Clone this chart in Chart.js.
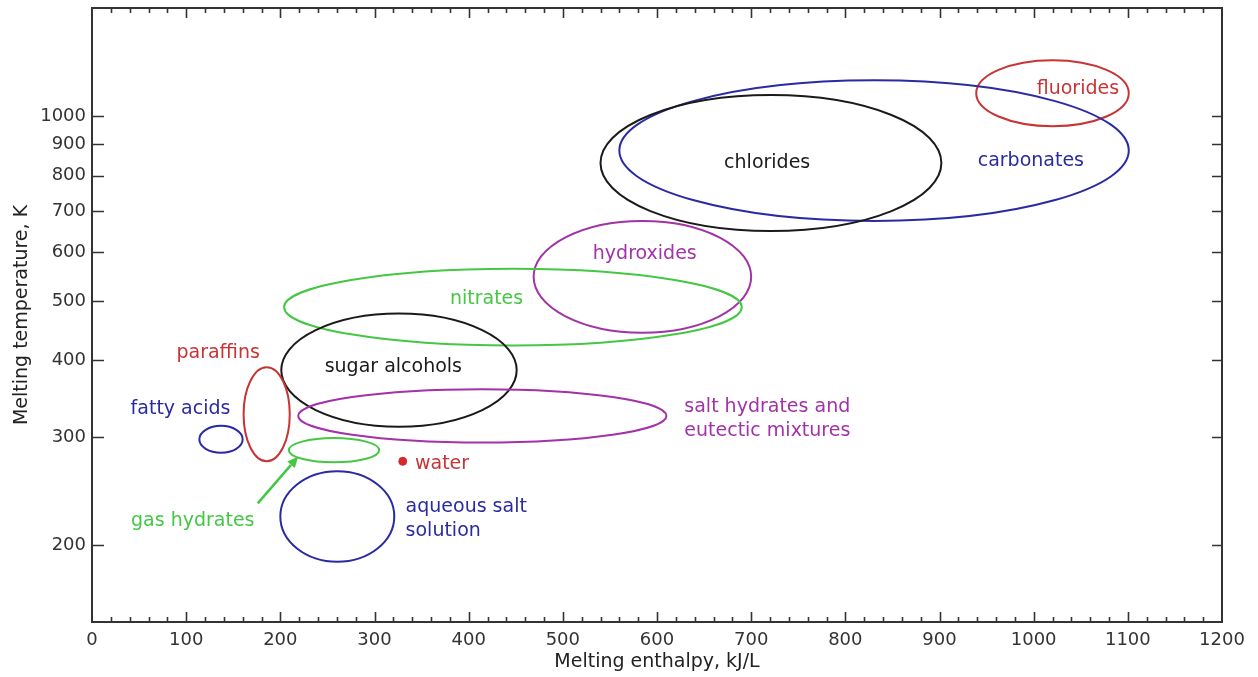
<!DOCTYPE html>
<html>
<head>
<meta charset="utf-8">
<title>Melting temperature vs melting enthalpy of PCM classes</title>
<script src="https://cdn.jsdelivr.net/npm/chart.js@4/dist/chart.umd.min.js"></script>
<style>
  html, body { margin: 0; padding: 0; background: #ffffff; }
  #wrap { width: 1258px; height: 677px; }
</style>
</head>
<body>
<div id="wrap"><canvas id="chart" width="1258" height="677"></canvas></div>
<script>
// Material classes: extent of each class in enthalpy (kJ/L) and melting temperature (K)
const groups        = ['fluorides', 'carbonates', 'chlorides', 'hydroxides', 'nitrates', 'sugar alcohols',
                       'salt hydrates', 'paraffins', 'fatty acids', 'gas hydrates', 'aqueous salt solution'];
const enthalpyMin   = [939, 560, 540, 469, 204, 201, 219, 161, 114, 209, 200];
const enthalpyMax   = [1101, 1101, 902, 700, 690, 451, 610, 210, 160, 305, 321];
const tempMin       = [963, 675, 650, 444, 423, 312, 294, 274, 283, 273, 188];
const tempMax       = [1233, 1144, 1082, 675, 564, 477, 359, 390, 313, 299, 264];
const groupColors   = ['#c83434', '#2a2aa2', '#1a1a1a', '#a232a8', '#44c844',
                       '#1a1a1a', '#a232a8', '#c83434', '#2a2aa2', '#44c844', '#2a2aa2'];

// Single point: water
const waterEnthalpy = [330];
const waterTemp     = [274];

// Text labels placed in data coordinates
const labelText  = ['fluorides', 'carbonates', 'chlorides', 'hydroxides', 'nitrates', 'sugar alcohols',
                    'salt hydrates and', 'eutectic mixtures', 'paraffins', 'fatty acids', 'water',
                    'gas hydrates', 'aqueous salt', 'solution'];
const labelX     = [1047, 997, 717, 587, 419, 320, 629, 629, 134, 94, 343, 107, 333, 333];
const labelT     = [1108, 845, 839, 597, 504, 390, 336, 307, 411, 333, 271, 219, 231, 211];
const labelAlign = ['center', 'center', 'center', 'center', 'center', 'center',
                    'left', 'left', 'center', 'center', 'left', 'center', 'left', 'left'];
const labelColor = ['#c83434', '#2a2aa2', '#1a1a1a', '#a232a8', '#44c844', '#1a1a1a',
                    '#a232a8', '#a232a8', '#c83434', '#2a2aa2', '#c83434', '#44c844', '#2a2aa2', '#2a2aa2'];

// Pointer from the "gas hydrates" label to its region: [tail, head] in data units
const arrowX = [176, 219];
const arrowT = [234, 279];

// Axis ticks
const xTicks = [0, 100, 200, 300, 400, 500, 600, 700, 800, 900, 1000, 1100, 1200];
const xMinorStep = 20;
const yTicks = [200, 300, 400, 500, 600, 700, 800, 900, 1000];

const FONT = "'DejaVu Sans', 'Liberation Sans', Arial, sans-serif";

const regionsPlugin = {
  id: 'regions',
  beforeDatasetsDraw(chart) {
    const { ctx, chartArea: a, scales: { x, y } } = chart;
    ctx.save();
    ctx.beginPath();
    ctx.rect(a.left, a.top, a.width, a.height);
    ctx.clip();
    ctx.lineWidth = 2;
    groups.forEach((g, i) => {
      const x0 = x.getPixelForValue(enthalpyMin[i]);
      const x1 = x.getPixelForValue(enthalpyMax[i]);
      const y0 = y.getPixelForValue(tempMax[i]);
      const y1 = y.getPixelForValue(tempMin[i]);
      ctx.beginPath();
      ctx.ellipse((x0 + x1) / 2, (y0 + y1) / 2, (x1 - x0) / 2, (y1 - y0) / 2, 0, 0, Math.PI * 2);
      ctx.strokeStyle = groupColors[i];
      ctx.stroke();
    });

    // arrow
    const tx = x.getPixelForValue(arrowX[0]), ty = y.getPixelForValue(arrowT[0]);
    const hx = x.getPixelForValue(arrowX[1]), hy = y.getPixelForValue(arrowT[1]);
    const ang = Math.atan2(hy - ty, hx - tx);
    const headLen = 11, headHalf = 5;
    const bx = hx - headLen * Math.cos(ang), by = hy - headLen * Math.sin(ang);
    ctx.strokeStyle = '#44c844';
    ctx.fillStyle = '#44c844';
    ctx.lineWidth = 2.5;
    ctx.beginPath();
    ctx.moveTo(tx, ty);
    ctx.lineTo(bx, by);
    ctx.stroke();
    ctx.beginPath();
    ctx.moveTo(hx, hy);
    ctx.lineTo(bx + headHalf * Math.sin(ang), by - headHalf * Math.cos(ang));
    ctx.lineTo(bx - headHalf * Math.sin(ang), by + headHalf * Math.cos(ang));
    ctx.closePath();
    ctx.fill();

    // labels
    ctx.font = '19px ' + FONT;
    ctx.textBaseline = 'middle';
    labelText.forEach((t, i) => {
      ctx.fillStyle = labelColor[i];
      ctx.textAlign = labelAlign[i];
      ctx.fillText(t, x.getPixelForValue(labelX[i]), y.getPixelForValue(labelT[i]));
    });
    ctx.restore();
  },
  afterDraw(chart) {
    const { ctx, chartArea: a, scales: { x, y } } = chart;
    ctx.save();
    ctx.strokeStyle = '#333333';
    ctx.lineWidth = 1.6;
    ctx.beginPath();
    // x ticks (major + minor), inward on bottom and top edges
    for (let v = x.min + xMinorStep; v < x.max; v += xMinorStep) {
      const px = Math.round(x.getPixelForValue(v)) + 0.5;
      const len = xTicks.includes(v) ? 10 : 5;
      ctx.moveTo(px, a.bottom); ctx.lineTo(px, a.bottom - len);
      ctx.moveTo(px, a.top);    ctx.lineTo(px, a.top + len);
    }
    // y ticks, inward on left and right edges
    yTicks.forEach(v => {
      const py = Math.round(y.getPixelForValue(v)) + 0.5;
      ctx.moveTo(a.left, py);  ctx.lineTo(a.left + 12, py);
      ctx.moveTo(a.right, py); ctx.lineTo(a.right - 10, py);
    });
    ctx.stroke();
    // frame
    ctx.lineWidth = 2;
    ctx.strokeRect(Math.round(a.left), Math.round(a.top), Math.round(a.width), Math.round(a.height));
    ctx.restore();
  }
};

new Chart(document.getElementById('chart'), {
  type: 'scatter',
  data: {
    datasets: [{
      label: 'water',
      data: waterEnthalpy.map((v, i) => ({ x: v, y: waterTemp[i] })),
      backgroundColor: '#d42a2a',
      borderColor: '#d42a2a',
      pointRadius: 4,
      pointHoverRadius: 4
    }]
  },
  options: {
    responsive: false,
    animation: false,
    layout: { padding: { top: 8, right: 36, left: 0, bottom: 0 } },
    plugins: { legend: { display: false }, tooltip: { enabled: false } },
    scales: {
      x: {
        type: 'linear',
        min: 0, max: 1200,
        afterBuildTicks: s => { s.ticks = xTicks.map(v => ({ value: v })); },
        afterFit: s => { s.height = 55; s.paddingLeft = 0; s.paddingRight = 0; },
        grid: { display: false, drawTicks: false },
        border: { display: false },
        ticks: { padding: 8, color: '#333333', font: { family: FONT, size: 18 }, maxRotation: 0, autoSkip: false,
                 callback: v => String(v) },
        title: { display: true, text: 'Melting enthalpy, kJ/L', color: '#222222',
                 font: { family: FONT, size: 19 }, padding: { top: 0, bottom: 4 } }
      },
      y: {
        type: 'logarithmic',
        min: 150, max: 1500,
        afterBuildTicks: s => { s.ticks = yTicks.map(v => ({ value: v })); },
        afterFit: s => { s.width = 92; s.paddingTop = 0; s.paddingBottom = 0; },
        grid: { display: false, drawTicks: false },
        border: { display: false },
        ticks: { padding: 6, color: '#333333', font: { family: FONT, size: 18 }, autoSkip: false,
                 callback: v => String(v) },
        title: { display: true, text: 'Melting temperature, K', color: '#222222',
                 font: { family: FONT, size: 19 }, padding: { top: 11, bottom: 0 } }
      }
    }
  },
  plugins: [regionsPlugin]
});
</script>
</body>
</html>
